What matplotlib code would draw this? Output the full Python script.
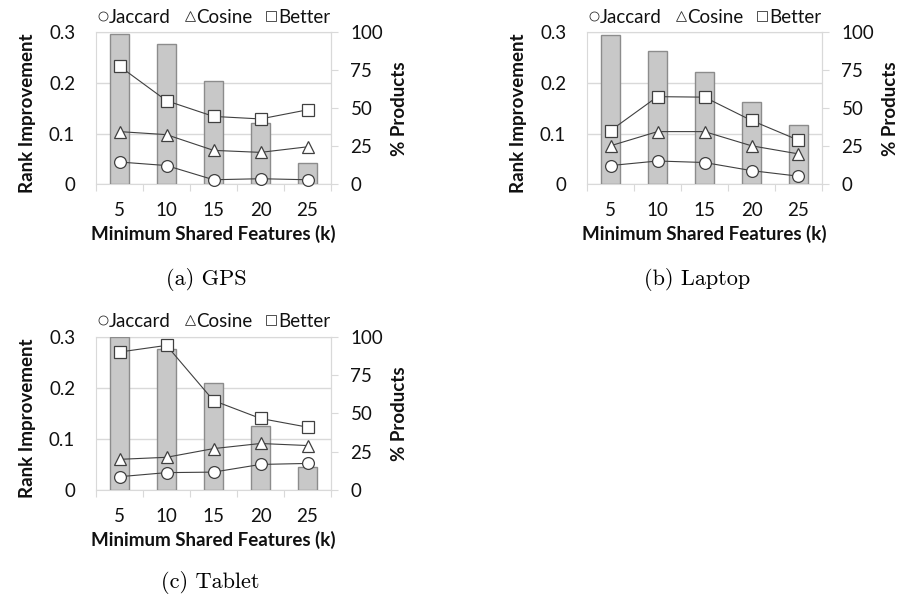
import numpy as np
import matplotlib
matplotlib.use('Agg')
import matplotlib.pyplot as plt
from matplotlib.lines import Line2D

plt.rcParams['font.family'] = ['Lato', 'DejaVu Sans']

# data
k = [5, 10, 15, 20, 25]

gps_pct = [99, 92, 68, 40, 14]
gps_jaccard = [0.044, 0.037, 0.009, 0.011, 0.009]
gps_cosine = [0.104, 0.098, 0.067, 0.063, 0.074]
gps_better = [0.233, 0.165, 0.134, 0.129, 0.147]

laptop_pct = [98, 88, 74, 54, 39]
laptop_jaccard = [0.037, 0.046, 0.043, 0.027, 0.016]
laptop_cosine = [0.076, 0.104, 0.104, 0.076, 0.060]
laptop_better = [0.106, 0.173, 0.172, 0.126, 0.087]

tablet_pct = [100, 92, 70, 42, 15]
tablet_jaccard = [0.026, 0.034, 0.035, 0.050, 0.052]
tablet_cosine = [0.060, 0.064, 0.081, 0.091, 0.087]
tablet_better = [0.270, 0.283, 0.175, 0.140, 0.123]

left_ticks = [0, 0.1, 0.2, 0.3]
left_labels = ['0', '0.1', '0.2', '0.3']
right_ticks = [0, 25, 50, 75, 100]
series_names = ['Jaccard', 'Cosine', 'Better']
markers = ['o', '^', 's']

GRID = '#d9d9d9'
EDGE = '#404040'
TXT = '#111111'
FS = 13.5


def draw_panel(fig, rect, pct, jac, cos, bet, caption, cap_xy):
    ax = fig.add_axes(rect)
    ax2 = ax.twinx()
    x = np.arange(len(k))
    ax.set_xlim(-0.5, len(k) - 0.5)
    ax.set_ylim(0, 0.3)
    ax2.set_ylim(0, 100)

    ax.yaxis.grid(True, color=GRID, lw=1)
    ax.set_axisbelow(True)

    ax2.bar(x, pct, width=0.39, color='#c8c8c8', edgecolor='#8c8c8c', lw=1, zorder=1)
    # lines use the left (rank improvement) scale but sit on top of the bars
    for vals, m in zip((jac, cos, bet), markers):
        ax2.plot(x, vals, transform=ax.transData, marker=m, ms=8.5, mfc='white',
                 mec=EDGE, mew=0.9, color=EDGE, lw=0.8, clip_on=False, zorder=3)

    ax.set_xticks(np.arange(-0.5, len(k), 1))
    ax.set_xticklabels([])
    ax.set_xticks(x, minor=True)
    ax.set_xticklabels([str(v) for v in k], minor=True)
    ax.tick_params(axis='x', which='major', length=5, color=GRID, direction='out')
    ax.tick_params(axis='x', which='minor', length=0, pad=13, labelsize=FS, labelcolor=TXT)

    ax.set_yticks(left_ticks)
    ax.set_yticklabels(left_labels)
    ax.tick_params(axis='y', length=0, pad=15, labelsize=FS, labelcolor=TXT)

    ax2.set_yticks(right_ticks)
    ax2.tick_params(axis='y', length=5, color=GRID, pad=9, labelsize=FS, labelcolor=TXT)

    for s in ax.spines.values():
        s.set_color(GRID)
    for name, s in ax2.spines.items():
        s.set_color(GRID)
        s.set_visible(name == 'right')

    ax.set_ylabel('Rank Improvement', fontweight='bold', fontsize=FS, color=TXT)
    ax.yaxis.set_label_coords(-0.255, 0.47)
    ax2.set_ylabel('% Products', fontweight='bold', fontsize=FS, color=TXT)
    ax2.yaxis.set_label_coords(1.255, 0.5)
    ax.set_xlabel('Minimum Shared Features (k)', fontweight='bold', fontsize=FS, color=TXT)
    ax.xaxis.set_label_coords(0.5, -0.27)

    handles = [Line2D([], [], ls='none', marker=m, ms=6.5, mfc='white', mec='#333333', mew=0.6)
               for m in markers]
    ax.legend(handles, series_names, loc='center', bbox_to_anchor=(0.5, 1.1), ncol=3,
              frameon=False, handlelength=0.6, handletextpad=0.05, columnspacing=0.7,
              borderpad=0, fontsize=FS, labelcolor=TXT)

    fig.text(cap_xy[0], cap_xy[1], caption, ha='center', va='baseline',
             fontfamily='cmr10', fontsize=16)


fig = plt.figure(figsize=(8.99, 5.97), dpi=100)
W, H = 899, 597

draw_panel(fig, [96 / W, 1 - 184.3 / H, 235 / W, 152 / H],
           gps_pct, gps_jaccard, gps_cosine, gps_better,
           '(a) GPS', (206 / W, 1 - 285 / H))
draw_panel(fig, [587 / W, 1 - 184.3 / H, 235 / W, 152 / H],
           laptop_pct, laptop_jaccard, laptop_cosine, laptop_better,
           '(b) Laptop', (697 / W, 1 - 285 / H))
draw_panel(fig, [96 / W, 1 - 490 / H, 235 / W, 153.3 / H],
           tablet_pct, tablet_jaccard, tablet_cosine, tablet_better,
           '(c) Tablet', (210 / W, 1 - 588 / H))

fig.savefig('out.png', dpi=100)
